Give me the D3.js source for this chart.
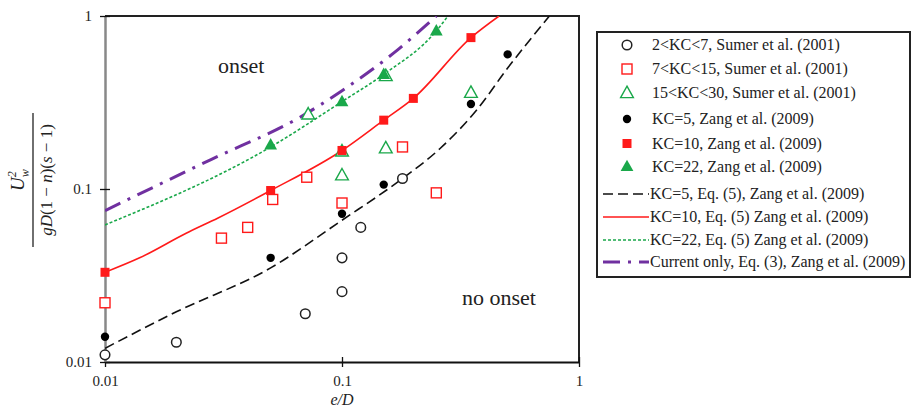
<!DOCTYPE html>
<html>
<head>
<meta charset="utf-8">
<script src="https://cdn.jsdelivr.net/npm/d3@7/dist/d3.min.js"></script>
<style>
  html, body { margin: 0; padding: 0; background: #fff; }
  svg { display: block; }
  text { font-family: "Liberation Serif", "Times New Roman", serif; fill: #222; }
</style>
</head>
<body>
<svg id="chart" width="911" height="409"></svg>
<script>
// Measured onset data (Sumer et al. 2001; Zang et al. 2009)
const sumerKC2to7X = [0.01, 0.02, 0.07, 0.1, 0.1, 0.12, 0.18];
const sumerKC2to7Y = [0.011, 0.013, 0.019, 0.0255, 0.04, 0.06, 0.115];

const sumerKC7to15X = [0.01, 0.031, 0.04, 0.051, 0.071, 0.1, 0.18, 0.25];
const sumerKC7to15Y = [0.022, 0.052, 0.06, 0.087, 0.117, 0.083, 0.175, 0.095];

const sumerKC15to30X = [0.072, 0.1, 0.1, 0.153, 0.153, 0.35];
const sumerKC15to30Y = [0.27, 0.12, 0.165, 0.172, 0.45, 0.36];

const zangKC5X = [0.01, 0.05, 0.1, 0.15, 0.35, 0.5];
const zangKC5Y = [0.014, 0.04, 0.072, 0.106, 0.31, 0.6];

const zangKC10X = [0.01, 0.05, 0.1, 0.15, 0.2, 0.35];
const zangKC10Y = [0.033, 0.098, 0.167, 0.25, 0.334, 0.75];

const zangKC22X = [0.05, 0.1, 0.15, 0.25];
const zangKC22Y = [0.18, 0.32, 0.46, 0.82];

// Predicted onset curves
const eq5KC5X = [0.01, 0.02, 0.05, 0.1, 0.18, 0.26, 0.37, 0.5, 0.75];
const eq5KC5Y = [0.012, 0.0195, 0.035, 0.066, 0.115, 0.172, 0.286, 0.5, 1.0];

const eq5KC10X = [0.01, 0.014, 0.022, 0.03, 0.05, 0.1, 0.15, 0.2, 0.35, 0.46];
const eq5KC10Y = [0.033, 0.040, 0.0555, 0.068, 0.098, 0.167, 0.25, 0.334, 0.75, 1.0];

const eq5KC22X = [0.01, 0.05, 0.1, 0.15, 0.25, 0.28];
const eq5KC22Y = [0.062, 0.175, 0.32, 0.46, 0.82, 1.0];

const eq3CurrentX = [0.01, 0.028, 0.0665, 0.1, 0.165, 0.25];
const eq3CurrentY = [0.075, 0.148, 0.26, 0.37, 0.61, 1.0];

const tickValues = [0.01, 0.1, 1];
const tickLabels = ["0.01", "0.1", "1"];

const legendLabels = [
  "2<KC<7, Sumer et al. (2001)",
  "7<KC<15, Sumer et al. (2001)",
  "15<KC<30, Sumer et al. (2001)",
  "KC=5, Zang et al. (2009)",
  "KC=10, Zang et al. (2009)",
  "KC=22, Zang et al. (2009)",
  "KC=5, Eq. (5), Zang et al. (2009)",
  "KC=10, Eq. (5) Zang et al. (2009)",
  "KC=22, Eq. (5) Zang et al. (2009)",
  "Current only, Eq. (3), Zang et al. (2009)"
];

const RED = "#ff1a1a", GREEN = "#1aa84a", PURPLE = "#7030a0";
const SERIF = "Liberation Serif, Times New Roman, serif";

const svg = d3.select("#chart");
const plot = { left: 105, right: 579, top: 16, bottom: 362 };

const x = d3.scaleLog().domain([0.01, 1]).range([plot.left, plot.right]);
const y = d3.scaleLog().domain([0.01, 1]).range([plot.bottom, plot.top]);

const zip = (xs, ys) => xs.map((v, i) => [v, ys[i]]);

svg.append("defs").append("clipPath").attr("id", "plotClip")
  .append("rect")
  .attr("x", plot.left).attr("y", plot.top)
  .attr("width", plot.right - plot.left).attr("height", plot.bottom - plot.top);

// Frame: top and right borders
svg.append("line").attr("x1", plot.left).attr("x2", plot.right + 1)
  .attr("y1", plot.top).attr("y2", plot.top)
  .attr("stroke", "#222").attr("stroke-width", 2);
svg.append("line").attr("x1", plot.right).attr("x2", plot.right)
  .attr("y1", plot.top).attr("y2", plot.bottom)
  .attr("stroke", "#222").attr("stroke-width", 2);

// Axes
const xAxis = d3.axisBottom(x).tickValues(tickValues)
  .tickFormat((d, i) => tickLabels[i]).tickSizeInner(5).tickSizeOuter(0).tickPadding(8);
const yAxis = d3.axisLeft(y).tickValues(tickValues)
  .tickFormat((d, i) => tickLabels[i]).tickSizeInner(5).tickSizeOuter(0).tickPadding(8);

const gx = svg.append("g").attr("transform", `translate(0,${plot.bottom})`).call(xAxis);
gx.select(".domain").attr("stroke", "#111").attr("stroke-width", 2);
gx.selectAll(".tick line").attr("y1", -5).attr("y2", 5).attr("stroke", "#111").attr("stroke-width", 1.3);
gx.selectAll(".tick text").attr("font-size", 15).attr("font-family", SERIF).attr("fill", "#333");

const gy = svg.append("g").attr("transform", `translate(${plot.left},0)`).call(yAxis);
gy.select(".domain").attr("stroke", "#888").attr("stroke-width", 2.5);
gy.selectAll(".tick line").attr("x1", 5).attr("x2", -5).attr("stroke", "#111").attr("stroke-width", 1.3);
gy.selectAll(".tick text").attr("font-size", 15).attr("font-family", SERIF).attr("fill", "#333");

// Axis titles
svg.append("text").attr("x", 342).attr("y", 405).attr("text-anchor", "middle")
  .attr("font-family", SERIF).attr("font-size", 16).attr("font-style", "italic").text("e/D");

const yTitle = svg.append("g").attr("transform", "translate(33,180) rotate(-90)");
yTitle.append("line").attr("x1", -67).attr("x2", 67).attr("y1", 0).attr("y2", 0)
  .attr("stroke", "#222").attr("stroke-width", 1.3);
const num = yTitle.append("text").attr("x", 0).attr("y", -9).attr("text-anchor", "middle")
  .attr("font-family", SERIF).attr("font-size", 19).attr("font-style", "italic");
num.append("tspan").text("U");
num.append("tspan").attr("font-size", 12).attr("dy", -8).text("2");
num.append("tspan").attr("font-size", 12).attr("dx", -6).attr("dy", 13).text("w");
const den = yTitle.append("text").attr("x", 0).attr("y", 19).attr("text-anchor", "middle")
  .attr("font-family", SERIF).attr("font-size", 17);
den.append("tspan").attr("font-style", "italic").text("gD");
den.append("tspan").text("(1 − ");
den.append("tspan").attr("font-style", "italic").text("n");
den.append("tspan").text(")(");
den.append("tspan").attr("font-style", "italic").text("s");
den.append("tspan").text(" − 1)");

// Region annotations
svg.append("text").attr("x", 218).attr("y", 73).attr("font-family", SERIF).attr("font-size", 22).text("onset");
svg.append("text").attr("x", 462).attr("y", 305).attr("font-family", SERIF).attr("font-size", 22).text("no onset");

// Curves
const lineGen = d3.line().x(d => x(d[0])).y(d => y(d[1])).curve(d3.curveMonotoneX);
const curves = svg.append("g").attr("clip-path", "url(#plotClip)");
const curveSpecs = [
  { xs: eq5KC5X, ys: eq5KC5Y, color: "#111", width: 1.6, dash: "10,5" },
  { xs: eq5KC10X, ys: eq5KC10Y, color: RED, width: 1.6, dash: null },
  { xs: eq5KC22X, ys: eq5KC22Y, color: GREEN, width: 1.6, dash: "3,2" },
  { xs: eq3CurrentX, ys: eq3CurrentY, color: PURPLE, width: 3, dash: "17,8,3,8" }
];
curveSpecs.forEach(c => {
  curves.append("path").datum(zip(c.xs, c.ys))
    .attr("d", lineGen).attr("fill", "none")
    .attr("stroke", c.color).attr("stroke-width", c.width)
    .attr("stroke-dasharray", c.dash);
});

// Marker drawing helpers
const triPath = s => `M0,${-s * 0.62}L${s * 0.58},${s * 0.42}L${-s * 0.58},${s * 0.42}Z`;
function drawMarker(g, kind) {
  switch (kind) {
    case "oc": return g.append("circle").attr("r", 4.8).attr("fill", "#fff").attr("stroke", "#222").attr("stroke-width", 1.5);
    case "os": return g.append("rect").attr("x", -5).attr("y", -5).attr("width", 10).attr("height", 10).attr("fill", "#fff").attr("stroke", RED).attr("stroke-width", 1.4);
    case "ot": return g.append("path").attr("d", triPath(11)).attr("fill", "#fff").attr("stroke", GREEN).attr("stroke-width", 1.4);
    case "fc": return g.append("circle").attr("r", 4.2).attr("fill", "#000");
    case "fs": return g.append("rect").attr("x", -4.5).attr("y", -4.5).attr("width", 9).attr("height", 9).attr("fill", RED);
    case "ft": return g.append("path").attr("d", triPath(11)).attr("fill", GREEN);
  }
}

const markerSpecs = [
  { xs: sumerKC2to7X, ys: sumerKC2to7Y, kind: "oc" },
  { xs: sumerKC7to15X, ys: sumerKC7to15Y, kind: "os" },
  { xs: sumerKC15to30X, ys: sumerKC15to30Y, kind: "ot" },
  { xs: zangKC5X, ys: zangKC5Y, kind: "fc" },
  { xs: zangKC10X, ys: zangKC10Y, kind: "fs" },
  { xs: zangKC22X, ys: zangKC22Y, kind: "ft" }
];
const marks = svg.append("g");
markerSpecs.forEach(m => {
  zip(m.xs, m.ys).forEach(p => {
    const g = marks.append("g").attr("transform", `translate(${x(p[0])},${y(p[1])})`);
    drawMarker(g, m.kind);
  });
});

// Legend
const legend = svg.append("g");
legend.append("rect").attr("x", 597).attr("y", 32).attr("width", 313).attr("height", 245)
  .attr("fill", "#fff").attr("stroke", "#222").attr("stroke-width", 2);
const rowYs = [45, 69, 93, 119, 143.5, 166.5, 194, 217, 240, 262];
legendLabels.forEach((lab, i) => {
  const yy = rowYs[i];
  if (i < 6) {
    const g = legend.append("g").attr("transform", `translate(627,${yy})`);
    drawMarker(g, markerSpecs[i].kind);
    legend.append("text").attr("x", 652).attr("y", yy + 5).attr("font-family", SERIF)
      .attr("font-size", 16).text(lab);
  } else {
    const c = curveSpecs[i - 6];
    legend.append("line").attr("x1", 603).attr("x2", 649).attr("y1", yy).attr("y2", yy)
      .attr("stroke", c.color).attr("stroke-width", c.width)
      .attr("stroke-dasharray", c.dash);
    legend.append("text").attr("x", 650).attr("y", yy + 5).attr("font-family", SERIF)
      .attr("font-size", 16).text(lab);
  }
});
</script>
</body>
</html>
